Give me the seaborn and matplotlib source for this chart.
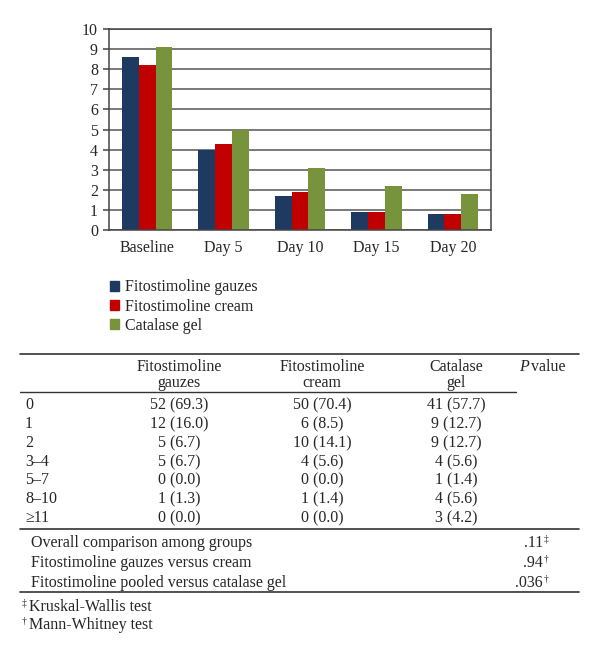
"""Wound score bar chart with the distribution table underneath."""

import matplotlib

matplotlib.use("Agg")

import matplotlib.pyplot as plt
import pandas as pd
import seaborn as sns
from matplotlib.lines import Line2D

# ---- chart data ----
days = ["Baseline", "Day 5", "Day 10", "Day 15", "Day 20"]
treatments = ["Fitostimoline gauzes", "Fitostimoline cream", "Catalase gel"]
gauzes_scores = [8.6, 4.0, 1.7, 0.9, 0.8]
cream_scores = [8.2, 4.3, 1.9, 0.9, 0.8]
catalase_scores = [9.1, 5.0, 3.1, 2.2, 1.8]
colors = ["#1F3A60", "#C00000", "#77933C"]

# ---- table data ----
header_cols = ["Fitostimoline\ngauzes", "Fitostimoline\ncream", "Catalase\ngel"]
score_labels = ["0", "1", "2", "3–4", "5–7", "8–10", "≥11"]
gauzes_counts = ["52 (69.3)", "12 (16.0)", "5 (6.7)", "5 (6.7)", "0 (0.0)", "1 (1.3)", "0 (0.0)"]
cream_counts = ["50 (70.4)", "6 (8.5)", "10 (14.1)", "4 (5.6)", "0 (0.0)", "1 (1.4)", "0 (0.0)"]
catalase_counts = ["41 (57.7)", "9 (12.7)", "9 (12.7)", "4 (5.6)", "1 (1.4)", "4 (5.6)", "3 (4.2)"]
comparisons = [
    "Overall comparison among groups",
    "Fitostimoline gauzes versus cream",
    "Fitostimoline pooled versus catalase gel",
]
p_values = [".11", ".94", ".036"]
p_marks = ["‡", "†", "†"]
footnotes = [("‡", "Kruskal-Wallis test"), ("†", "Mann-Whitney test")]

W, H = 600, 654
FONT = 11.5

sns.set_style("white")
plt.rcParams["font.family"] = ["Liberation Serif", "DejaVu Serif"]

frame = pd.DataFrame(
    {
        "day": days * 3,
        "treatment": [t for t in treatments for _ in days],
        "score": gauzes_scores + cream_scores + catalase_scores,
    }
)

fig = plt.figure(figsize=(W / 100, H / 100), dpi=100)
ax = fig.add_axes([109 / W, 1 - 230 / H, 382 / W, 201 / H])

sns.barplot(
    data=frame, x="day", y="score", hue="treatment", order=days, hue_order=treatments,
    palette=colors, width=0.66, linewidth=0, saturation=1, ax=ax, legend=False,
)
ax.set_ylim(0, 10)
ax.set_yticks(range(0, 11))
ax.set_xlabel("")
ax.set_ylabel("")
ax.yaxis.grid(True, color="#555555", linewidth=1.1)
ax.set_axisbelow(True)
for side in ["left", "right", "top", "bottom"]:
    ax.spines[side].set_color("#444444")
    ax.spines[side].set_linewidth(1.1)
ax.tick_params(axis="y", left=True, length=4, width=1.1, color="#444444", labelsize=FONT, pad=4)
ax.tick_params(axis="x", bottom=False, labelsize=FONT, pad=4)

handles = [plt.Rectangle((0, 0), 1, 1, color=c) for c in colors]
fig.legend(
    handles, treatments, loc="upper left", bbox_to_anchor=(104 / W, 1 - 273 / H),
    frameon=False, fontsize=FONT, handlelength=0.55, handleheight=0.55,
    handletextpad=0.35, labelspacing=0.2, borderaxespad=0,
)


def fx(x):
    return x / W


def fy(y):
    return 1 - y / H


def hline(y, x0, x1, lw=1.0):
    fig.add_artist(Line2D([fx(x0), fx(x1)], [fy(y), fy(y)], transform=fig.transFigure,
                          color="#333333", linewidth=lw))


# table rules
hline(354, 20, 579, 1.2)
hline(392, 20, 516, 1.0)
hline(529, 20, 579, 1.2)
hline(592, 20, 579, 1.2)

# header
col_x = [179, 322, 456]
for x, label in zip(col_x, header_cols):
    fig.text(fx(x), fy(375), label, ha="center", va="center", fontsize=FONT, linespacing=1.05)
fig.text(fx(519), fy(367), "P", ha="left", va="center", fontsize=FONT, style="italic")
fig.text(fx(531), fy(367), "value", ha="left", va="center", fontsize=FONT)

# body rows
row_y = [405, 424, 443, 462, 480, 499, 518]
for i, y in enumerate(row_y):
    fig.text(fx(25), fy(y), score_labels[i], ha="left", va="center", fontsize=FONT)
    for x, col in zip(col_x, [gauzes_counts, cream_counts, catalase_counts]):
        fig.text(fx(x), fy(y), col[i], ha="center", va="center", fontsize=FONT)

# comparison rows
comp_y = [543, 563, 583]
for y, label, p, mark in zip(comp_y, comparisons, p_values, p_marks):
    fig.text(fx(31), fy(y), label, ha="left", va="center", fontsize=FONT)
    fig.text(fx(543), fy(y), p, ha="right", va="center", fontsize=FONT)
    fig.text(fx(544), fy(y - 4), mark, ha="left", va="center", fontsize=FONT * 0.6)

# footnotes
for y, (mark, note) in zip([607, 625], footnotes):
    fig.text(fx(22), fy(y - 4), mark, ha="left", va="center", fontsize=FONT * 0.6)
    fig.text(fx(29), fy(y), note, ha="left", va="center", fontsize=FONT)

fig.savefig("out.png", dpi=100)
plt.close(fig)
